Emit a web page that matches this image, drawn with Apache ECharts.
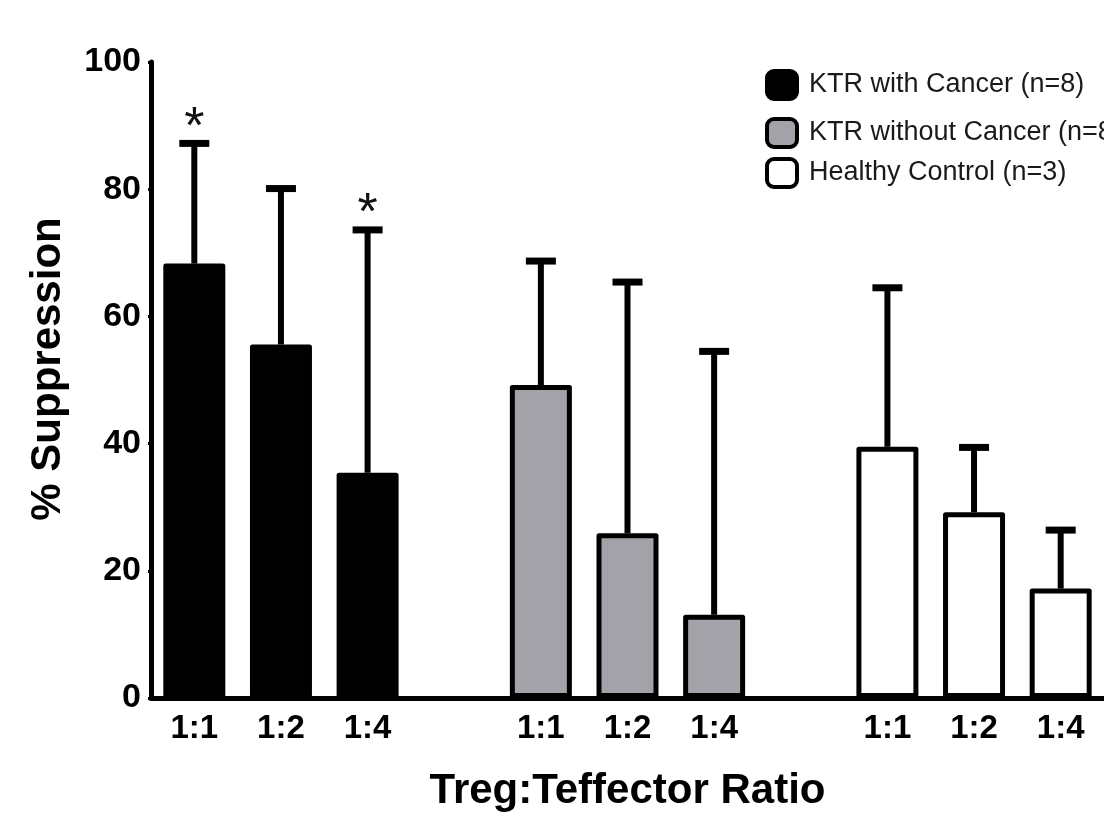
<!DOCTYPE html>
<html>
<head>
<meta charset="utf-8">
<script src="https://cdn.jsdelivr.net/npm/echarts@6/dist/echarts.min.js"></script>
<style>html,body{margin:0;padding:0;background:#fff}#c{width:1104px;height:817px}</style>
</head>
<body>
<div id="c"></div>
<script>
// ---- data ----
const ratioLabels = ['1:1', '1:2', '1:4', '', '1:1', '1:2', '1:4', '', '1:1', '1:2', '1:4'];
const groupNames = ['KTR with Cancer (n=8)', 'KTR without Cancer (n=8)', 'Healthy Control (n=3)'];
const groupSlots = [[0, 1, 2], [4, 5, 6], [8, 9, 10]];
const meanWithCancer = [68.3, 55.6, 35.4];
const meanWithoutCancer = [49.2, 25.9, 13.1];
const meanHealthy = [39.5, 29.2, 17.2];
const upperWithCancer = [87.2, 80.1, 73.6];
const upperWithoutCancer = [68.7, 65.4, 54.5];
const upperHealthy = [64.5, 39.4, 26.4];
const significantSlots = [0, 2];
const yTicks = [0, 20, 40, 60, 80, 100];

const means = [meanWithCancer, meanWithoutCancer, meanHealthy];
const uppers = [upperWithCancer, upperWithoutCancer, upperHealthy];
const fills = ['#000000', '#a3a2a8', '#ffffff'];
const FONT = '"Liberation Sans", Arial, Helvetica, sans-serif';
const catKeys = ratioLabels.map((l, i) => 'c' + i);

const chart = echarts.init(document.getElementById('c'));

const barSeries = groupNames.map((name, g) => {
  const data = catKeys.map(() => '-');
  groupSlots[g].forEach((slot, k) => { data[slot] = means[g][k]; });
  return {
    name: name,
    type: 'bar',
    data: data,
    barWidth: 62,
    barGap: '-100%',
    itemStyle: { color: fills[g], borderColor: '#000', borderWidth: 5, borderJoin: 'round' },
    z: 2
  };
});

const errData = [];
groupSlots.forEach((slots, g) => slots.forEach((slot, k) => errData.push([slot, means[g][k], uppers[g][k]])));

const errSeries = {
  type: 'custom',
  data: errData,
  z: 1,
  silent: true,
  renderItem: function (params, api) {
    const x = api.value(0);
    const top = api.coord([x, api.value(2)]);
    const base = api.coord([x, api.value(1)]);
    const half = 15;
    return {
      type: 'group',
      children: [
        { type: 'line', shape: { x1: top[0], y1: top[1], x2: base[0], y2: base[1] }, style: { stroke: '#000', lineWidth: 6 } },
        { type: 'line', shape: { x1: top[0] - half, y1: top[1], x2: top[0] + half, y2: top[1] }, style: { stroke: '#000', lineWidth: 7 } }
      ]
    };
  }
};

const starData = significantSlots.map(slot => {
  for (let g = 0; g < groupSlots.length; g++) {
    const k = groupSlots[g].indexOf(slot);
    if (k >= 0) return [slot, uppers[g][k]];
  }
});

const starSeries = {
  type: 'custom',
  data: starData,
  z: 3,
  silent: true,
  renderItem: function (params, api) {
    const p = api.coord([api.value(0), api.value(1)]);
    return {
      type: 'text',
      x: p[0],
      y: p[1] + 11,
      style: { text: '*', fontSize: 52, fontFamily: FONT, fill: '#111', align: 'center', verticalAlign: 'bottom' }
    };
  }
};

const legendTops = [64, 112, 152];
const legends = groupNames.map((name, g) => ({
  data: [name],
  left: 760,
  top: legendTops[g],
  orient: 'vertical',
  icon: 'roundRect',
  itemWidth: 30,
  itemHeight: 28,
  itemStyle: { borderColor: '#000', borderWidth: 4 },
  selectedMode: false,
  textStyle: { fontSize: 27, fontFamily: FONT, color: '#1a1a1a', padding: [0, 0, 0, 7] }
}));

chart.setOption({
  animation: false,
  backgroundColor: '#fff',
  legend: legends,
  grid: { left: 151, top: 62, width: 958, bottom: 116, containLabel: false },
  xAxis: {
    type: 'category',
    data: catKeys,
    name: 'Treg:Teffector Ratio',
    nameLocation: 'middle',
    nameGap: 72,
    nameTextStyle: { fontSize: 42, fontWeight: 'bold', fontFamily: FONT, color: '#000' },
    axisLine: { lineStyle: { color: '#000', width: 5 } },
    axisTick: { alignWithLabel: true, length: 4, lineStyle: { color: '#000', width: 3 } },
    axisLabel: {
      interval: 0,
      margin: 14,
      formatter: (v, i) => ratioLabels[i],
      fontSize: 33, fontWeight: 'bold', fontFamily: FONT, color: '#000'
    },
    splitLine: { show: false }
  },
  yAxis: {
    type: 'value',
    min: yTicks[0],
    max: yTicks[yTicks.length - 1],
    interval: yTicks[1] - yTicks[0],
    name: '% Suppression',
    nameLocation: 'middle',
    nameGap: 82,
    nameRotate: 90,
    nameTextStyle: { fontSize: 42, fontWeight: 'bold', fontFamily: FONT, color: '#000', padding: [0, 0, 0, 22] },
    axisLine: { show: true, lineStyle: { color: '#000', width: 5 } },
    axisTick: { show: true, length: 3, lineStyle: { color: '#000', width: 3 } },
    axisLabel: { margin: 10, fontSize: 34, fontWeight: 'bold', fontFamily: FONT, color: '#000' },
    splitLine: { show: false }
  },
  series: [errSeries].concat(barSeries, [starSeries])
});
</script>
</body>
</html>
